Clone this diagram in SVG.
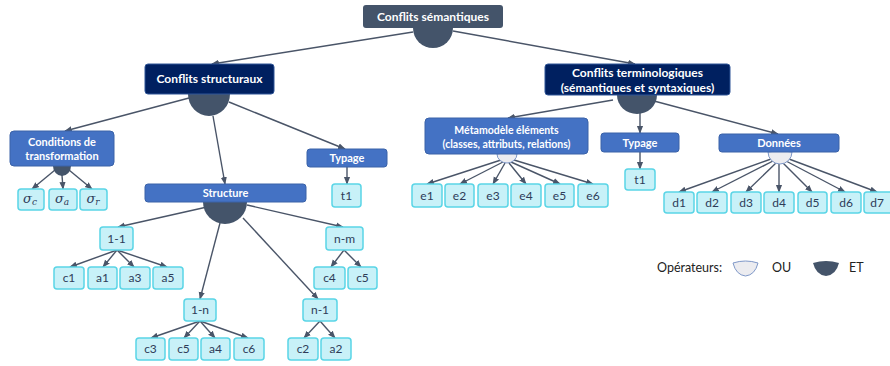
<svg xmlns="http://www.w3.org/2000/svg" width="890" height="366" viewBox="0 0 890 366">
<defs>
<style>
.root{fill:#44546A;}
.l1{fill:#002060;stroke:#2F5597;stroke-width:1;}
.l2{fill:#4472C4;stroke:#3A62A8;stroke-width:1;}
.leaf{fill:#C8F1F8;stroke:#5AD5E6;stroke-width:1.5;}
.et{fill:#44546A;}
.ou{fill:#ECECF0;stroke:#7F98C8;stroke-width:1;}
.tw{font-family:Lato,"Liberation Sans",sans-serif;font-weight:bold;fill:#FFFFFF;text-anchor:middle;}
.tl{font-family:Lato,"Liberation Sans",sans-serif;font-size:12px;fill:#2E3C58;text-anchor:middle;}
.sg{font-family:"DejaVu Serif","Liberation Serif",serif;font-style:italic;font-size:13px;fill:#2E3C58;text-anchor:middle;}
.lg{font-family:Lato,"Liberation Sans",sans-serif;font-size:12.5px;fill:#222;}
.c{fill:none;stroke:#4A5568;stroke-width:1.4;marker-end:url(#ah);}
</style>
<marker id="ah" viewBox="0 0 10 10" refX="9" refY="5" markerWidth="5.5" markerHeight="5.5" orient="auto"><path d="M0,1 L10,5 L0,9 z" fill="#4A5568"/></marker>
</defs>
<rect width="890" height="366" fill="#FFFFFF"/>

<g id="connectors">
<line class="c" x1="413" y1="32" x2="212" y2="64"/>
<line class="c" x1="453" y1="31" x2="635" y2="64"/>
<line class="c" x1="189" y1="98" x2="65" y2="131"/>
<line class="c" x1="213" y1="116" x2="225" y2="184"/>
<line class="c" x1="229" y1="102" x2="345" y2="149"/>
<line class="c" x1="613" y1="100" x2="508" y2="118"/>
<line class="c" x1="640" y1="113" x2="640" y2="133"/>
<line class="c" x1="654" y1="101" x2="778" y2="134"/>
<line class="c" x1="347" y1="167" x2="347" y2="184"/>
<line class="c" x1="640" y1="152" x2="640" y2="169"/>
<line class="c" x1="55" y1="170" x2="32" y2="189"/>
<line class="c" x1="62" y1="175" x2="63" y2="189"/>
<line class="c" x1="69" y1="170" x2="92" y2="189"/>
<line class="c" x1="207" y1="207" x2="118" y2="227"/>
<line class="c" x1="220" y1="223" x2="200" y2="299"/>
<line class="c" x1="243" y1="218" x2="318" y2="299"/>
<line class="c" x1="247" y1="205" x2="343" y2="227"/>
<line class="c" x1="117" y1="250" x2="70" y2="267"/>
<line class="c" x1="117" y1="250" x2="103" y2="267"/>
<line class="c" x1="117" y1="250" x2="134" y2="267"/>
<line class="c" x1="117" y1="250" x2="167" y2="267"/>
<line class="c" x1="200" y1="321" x2="151" y2="338"/>
<line class="c" x1="200" y1="321" x2="184" y2="338"/>
<line class="c" x1="200" y1="321" x2="215" y2="338"/>
<line class="c" x1="200" y1="321" x2="248" y2="338"/>
<line class="c" x1="344" y1="250" x2="331" y2="267"/>
<line class="c" x1="344" y1="250" x2="361" y2="267"/>
<line class="c" x1="320" y1="321" x2="304" y2="338"/>
<line class="c" x1="320" y1="321" x2="335" y2="338"/>
<line class="c" x1="501" y1="160" x2="427" y2="184"/>
<line class="c" x1="503" y1="162" x2="460" y2="184"/>
<line class="c" x1="505" y1="163" x2="493" y2="184"/>
<line class="c" x1="509" y1="163" x2="526" y2="184"/>
<line class="c" x1="511" y1="162" x2="560" y2="184"/>
<line class="c" x1="514" y1="160" x2="593" y2="184"/>
<line class="c" x1="771" y1="159" x2="679" y2="192"/>
<line class="c" x1="773" y1="161" x2="712" y2="192"/>
<line class="c" x1="776" y1="163" x2="746" y2="192"/>
<line class="c" x1="779" y1="164" x2="779" y2="192"/>
<line class="c" x1="783" y1="163" x2="812" y2="192"/>
<line class="c" x1="786" y1="161" x2="845" y2="192"/>
<line class="c" x1="789" y1="159" x2="877" y2="192"/>
</g>

<g id="op-root"><path class="et" d="M413,28 A20,20 0 0 0 453,28 Z"/></g>
<g id="op-struct"><path class="et" d="M188,94 A21,22 0 0 0 230,94 Z"/></g>
<g id="op-term"><path class="et" d="M617,95 A20,19 0 0 0 657,95 Z"/></g>
<g id="op-cond"><path class="et" d="M53,166 A9,10 0 0 0 71,166 Z"/></g>
<g id="op-structure"><path class="et" d="M203,202 A22,22 0 0 0 247,202 Z"/></g>
<g id="op-meta"><path class="ou" d="M497,154 Q507,151 517,154 A10,9 0 0 1 497,154 Z"/></g>
<g id="op-donnees"><path class="ou" d="M768,152 Q780,149 792,152 A12,12 0 0 1 768,152 Z"/></g>

<g id="n-root"><rect class="root" x="363" y="5" width="140" height="23" rx="3"/><text class="tw" x="433" y="21" font-size="12">Conflits sémantiques</text></g>
<g id="n-structuraux"><rect class="l1" x="145" y="64" width="129" height="30" rx="3"/><text class="tw" x="209.5" y="83" font-size="12">Conflits structuraux</text></g>
<g id="n-terminologiques"><rect class="l1" x="545" y="64" width="185" height="31" rx="3"/><text class="tw" x="637.5" y="77" font-size="12">Conflits terminologiques</text><text class="tw" x="637.5" y="92" font-size="12">(sémantiques et syntaxiques)</text></g>
<g id="n-conditions"><rect class="l2" x="10" y="131" width="104" height="35" rx="4"/><text class="tw" x="62" y="146" font-size="11">Conditions de</text><text class="tw" x="62" y="160" font-size="11">transformation</text></g>
<g id="n-sc"><rect class="leaf" x="18" y="189" width="26" height="21" rx="3"/><text class="sg" x="30" y="203">σ<tspan font-size="9" dy="2">c</tspan></text></g>
<g id="n-sa"><rect class="leaf" x="49" y="189" width="28" height="21" rx="3"/><text class="sg" x="62" y="203">σ<tspan font-size="9" dy="2">a</tspan></text></g>
<g id="n-sr"><rect class="leaf" x="80" y="189" width="27" height="21" rx="3"/><text class="sg" x="93" y="203">σ<tspan font-size="9" dy="2">r</tspan></text></g>
<g id="n-structure"><rect class="l2" x="145" y="184" width="161" height="18" rx="3"/><text class="tw" x="225.5" y="197" font-size="11">Structure</text></g>
<g id="n-typage1"><rect class="l2" x="307" y="149" width="80" height="18" rx="3"/><text class="tw" x="347" y="162" font-size="11">Typage</text></g>
<g id="n-t1a"><rect class="leaf" x="332" y="184" width="29" height="23" rx="3"/><text class="tl" x="346.5" y="200">t1</text></g>
<g id="n-11"><rect class="leaf" x="100" y="227" width="33" height="23" rx="3"/><text class="tl" x="116.5" y="243">1-1</text></g>
<g id="n-c1"><rect class="leaf" x="54" y="267" width="30" height="22" rx="3"/><text class="tl" x="69" y="282">c1</text></g>
<g id="n-a1"><rect class="leaf" x="88" y="267" width="29" height="22" rx="3"/><text class="tl" x="102.5" y="282">a1</text></g>
<g id="n-a3"><rect class="leaf" x="120" y="267" width="30" height="22" rx="3"/><text class="tl" x="135" y="282">a3</text></g>
<g id="n-a5"><rect class="leaf" x="153" y="267" width="30" height="22" rx="3"/><text class="tl" x="168" y="282">a5</text></g>
<g id="n-1n"><rect class="leaf" x="184" y="299" width="32" height="22" rx="3"/><text class="tl" x="200" y="314">1-n</text></g>
<g id="n-c3"><rect class="leaf" x="136" y="338" width="29" height="22" rx="3"/><text class="tl" x="150.5" y="353">c3</text></g>
<g id="n-c5a"><rect class="leaf" x="169" y="338" width="29" height="22" rx="3"/><text class="tl" x="183.5" y="353">c5</text></g>
<g id="n-a4"><rect class="leaf" x="201" y="338" width="29" height="22" rx="3"/><text class="tl" x="215.5" y="353">a4</text></g>
<g id="n-c6"><rect class="leaf" x="234" y="338" width="30" height="22" rx="3"/><text class="tl" x="249" y="353">c6</text></g>
<g id="n-nm"><rect class="leaf" x="326" y="227" width="37" height="23" rx="3"/><text class="tl" x="344.5" y="243">n-m</text></g>
<g id="n-c4"><rect class="leaf" x="314" y="267" width="31" height="22" rx="3"/><text class="tl" x="329.5" y="282">c4</text></g>
<g id="n-c5b"><rect class="leaf" x="348" y="267" width="29" height="22" rx="3"/><text class="tl" x="362.5" y="282">c5</text></g>
<g id="n-n1"><rect class="leaf" x="303" y="299" width="34" height="22" rx="3"/><text class="tl" x="320" y="314">n-1</text></g>
<g id="n-c2"><rect class="leaf" x="288" y="338" width="30" height="22" rx="3"/><text class="tl" x="303" y="353">c2</text></g>
<g id="n-a2"><rect class="leaf" x="321" y="338" width="30" height="22" rx="3"/><text class="tl" x="336" y="353">a2</text></g>
<g id="n-meta"><rect class="l2" x="425" y="118" width="163" height="36" rx="4"/><text class="tw" x="506.5" y="134" font-size="10.5">Métamodèle éléments</text><text class="tw" x="506.5" y="148" font-size="10.5">(classes, attributs, relations)</text></g>
<g id="n-e1"><rect class="leaf" x="412" y="184" width="30" height="23" rx="3"/><text class="tl" x="427" y="200">e1</text></g>
<g id="n-e2"><rect class="leaf" x="445" y="184" width="29" height="23" rx="3"/><text class="tl" x="459.5" y="200">e2</text></g>
<g id="n-e3"><rect class="leaf" x="478" y="184" width="30" height="23" rx="3"/><text class="tl" x="493" y="200">e3</text></g>
<g id="n-e4"><rect class="leaf" x="511" y="184" width="30" height="23" rx="3"/><text class="tl" x="526" y="200">e4</text></g>
<g id="n-e5"><rect class="leaf" x="545" y="184" width="29" height="23" rx="3"/><text class="tl" x="559.5" y="200">e5</text></g>
<g id="n-e6"><rect class="leaf" x="578" y="184" width="30" height="23" rx="3"/><text class="tl" x="593" y="200">e6</text></g>
<g id="n-typage2"><rect class="l2" x="601" y="133" width="78" height="19" rx="3"/><text class="tw" x="640" y="146.5" font-size="11">Typage</text></g>
<g id="n-t1b"><rect class="leaf" x="625" y="169" width="30" height="21" rx="3"/><text class="tl" x="640" y="184">t1</text></g>
<g id="n-donnees"><rect class="l2" x="719" y="134" width="120" height="18" rx="3"/><text class="tw" x="779" y="147" font-size="11">Données</text></g>
<g id="n-d1"><rect class="leaf" x="664" y="192" width="30" height="21" rx="3"/><text class="tl" x="679" y="207">d1</text></g>
<g id="n-d2"><rect class="leaf" x="697" y="192" width="30" height="21" rx="3"/><text class="tl" x="712" y="207">d2</text></g>
<g id="n-d3"><rect class="leaf" x="731" y="192" width="30" height="21" rx="3"/><text class="tl" x="746" y="207">d3</text></g>
<g id="n-d4"><rect class="leaf" x="764" y="192" width="30" height="21" rx="3"/><text class="tl" x="779" y="207">d4</text></g>
<g id="n-d5"><rect class="leaf" x="798" y="192" width="29" height="21" rx="3"/><text class="tl" x="812.5" y="207">d5</text></g>
<g id="n-d6"><rect class="leaf" x="831" y="192" width="30" height="21" rx="3"/><text class="tl" x="846" y="207">d6</text></g>
<g id="n-d7"><rect class="leaf" x="864" y="192" width="30" height="21" rx="3"/><text class="tl" x="877" y="207">d7</text></g>

<g id="legend">
<text class="lg" x="657" y="272">Opérateurs:</text>
<path class="ou" d="M733,263 Q745.5,259 758,263 Q755,275 745.5,276 Q736,275 733,263 Z"/>
<text class="lg" x="772" y="272">OU</text>
<path class="et" d="M813,263 Q826,259 839,263 Q836,275 826,276 Q816,275 813,263 Z"/>
<text class="lg" x="849" y="272">ET</text>
</g>
</svg>
